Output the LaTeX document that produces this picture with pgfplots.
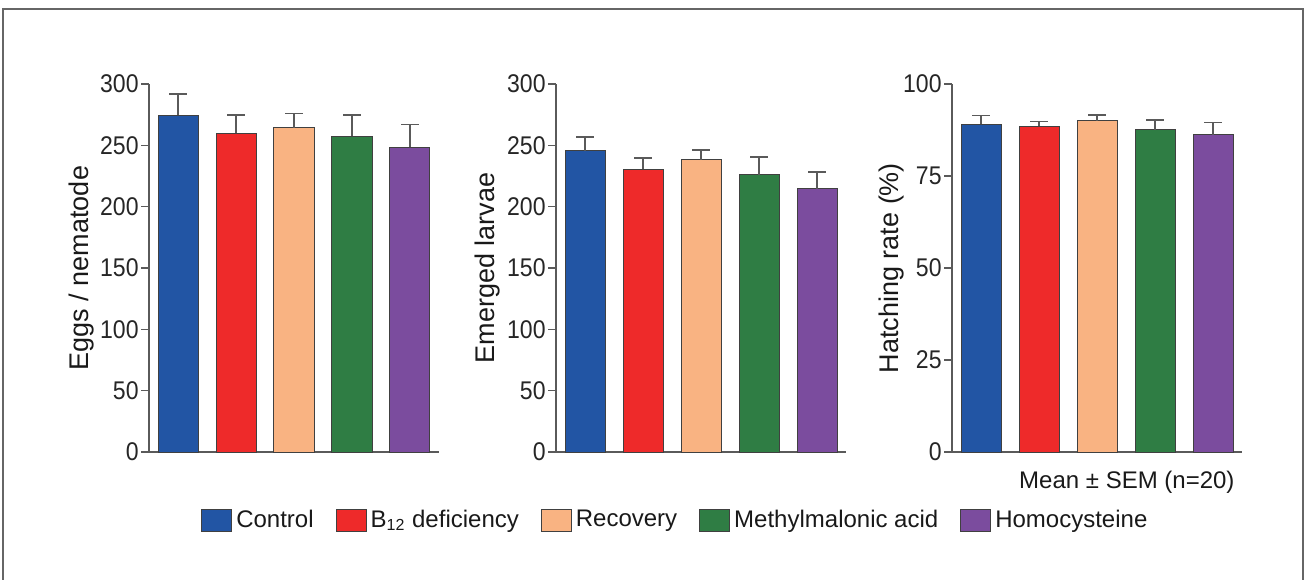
\documentclass[border=0pt]{standalone}
\usepackage{pgfplots}
\pgfplotsset{compat=1.18}
\usepackage{fontspec}
\setmainfont{Liberation Sans}
\definecolor{cBlue}{HTML}{2255A4}
\definecolor{cRed}{HTML}{EE2A2A}
\definecolor{cPeach}{HTML}{F9B382}
\definecolor{cGreen}{HTML}{2F7D44}
\definecolor{cPurple}{HTML}{7B4C9E}
\definecolor{axgray}{HTML}{5A5A5A}
\pgfplotsset{
  myax/.style={
    scale only axis, width=145pt, height=184pt,
    xmin=-0.5, xmax=4.5, ymin=0,
    axis lines*=left, xtick=\empty,
    axis line style={axgray, line width=0.8pt},
    tick align=outside, major tick length=4pt,
    ytick style={axgray, line width=0.8pt},
    /pgf/number format/assume math mode=true,
    yticklabel={\scalebox{0.9}[1]{\pgfmathprintnumber{\tick}}},
    yticklabel style={inner sep=1pt, font=\fontsize{12.8}{14}\selectfont, text=black!85},
    ylabel style={anchor=center, font=\fontsize{13.5}{16}\selectfont, text=black!90},
    ybar, bar width=20pt, bar shift=0pt,
    every axis plot/.append style={draw=black!75, line width=0.5pt,
      error bars/y dir=plus, error bars/y explicit,
      error bars/error bar style={axgray, line width=0.8pt},
      error bars/error mark options={rotate=90, axgray, line width=0.8pt, mark size=4.5pt}},
    clip=false,
  }
}
\begin{document}
\begin{tikzpicture}
\useasboundingbox (0,0) rectangle (652.5pt,289.5pt);
\draw[black!60, line width=0.6pt] (1.5pt,-5pt) -- (1.5pt,285pt) -- (651.5pt,285pt) -- (651.5pt,-5pt);

% Panel 1
\begin{axis}[myax, at={(74.5pt,63.5pt)}, anchor=south west,
  ymax=300, ytick={0,50,...,300}, ylabel={Eggs / nematode},
  ylabel style={at={(axis description cs:-0.231,0.5)}}]
\addplot[fill=cBlue] coordinates {(0,274.7) +- (0,17.0)};
\addplot[fill=cRed] coordinates {(1,260.0) +- (0,14.5)};
\addplot[fill=cPeach] coordinates {(2,264.4) +- (0,11.4)};
\addplot[fill=cGreen] coordinates {(3,257.6) +- (0,17.0)};
\addplot[fill=cPurple] coordinates {(4,248.6) +- (0,18.4)};
\end{axis}

% Panel 2
\begin{axis}[myax, at={(278pt,63.5pt)}, anchor=south west,
  ymax=300, ytick={0,50,...,300}, ylabel={Emerged larvae},
  ylabel style={at={(axis description cs:-0.237,0.5)}},
  legend columns=5,
  legend style={draw=none, fill=none, at={(axis description cs:0.415,-0.185)}, anchor=center,
    font=\fontsize{12}{14}\selectfont, text=black!90,
    /tikz/every even column/.append style={column sep=9pt}},
  legend image code/.code={\draw[#1,draw=black!75,line width=0.5pt] (0pt,-5.5pt) rectangle (15pt,5.5pt);}]
\addplot[fill=cBlue] coordinates {(0,245.7) +- (0,11.3)};
\addplot[fill=cRed] coordinates {(1,230.6) +- (0,8.9)};
\addplot[fill=cPeach] coordinates {(2,238.2) +- (0,7.8)};
\addplot[fill=cGreen] coordinates {(3,226.2) +- (0,14.2)};
\addplot[fill=cPurple] coordinates {(4,214.8) +- (0,13.4)};
\legend{Control, B\textsubscript{12} deficiency, Recovery, Methylmalonic acid, Homocysteine}
\end{axis}

% Panel 3
\begin{axis}[myax, at={(476pt,63.5pt)}, anchor=south west,
  ymax=100, ytick={0,25,...,100}, ylabel={Hatching rate (\%)},
  ylabel style={at={(axis description cs:-0.207,0.5)}}]
\addplot[fill=cBlue] coordinates {(0,89.0) +- (0,2.4)};
\addplot[fill=cRed] coordinates {(1,88.5) +- (0,1.3)};
\addplot[fill=cPeach] coordinates {(2,90.0) +- (0,1.5)};
\addplot[fill=cGreen] coordinates {(3,87.5) +- (0,2.7)};
\addplot[fill=cPurple] coordinates {(4,86.2) +- (0,3.3)};
\node[font=\fontsize{12}{14}\selectfont, text=black!90] at (rel axis cs:0.603,-0.082) {Mean ± SEM (n=20)};
\end{axis}
\end{tikzpicture}
\end{document}
